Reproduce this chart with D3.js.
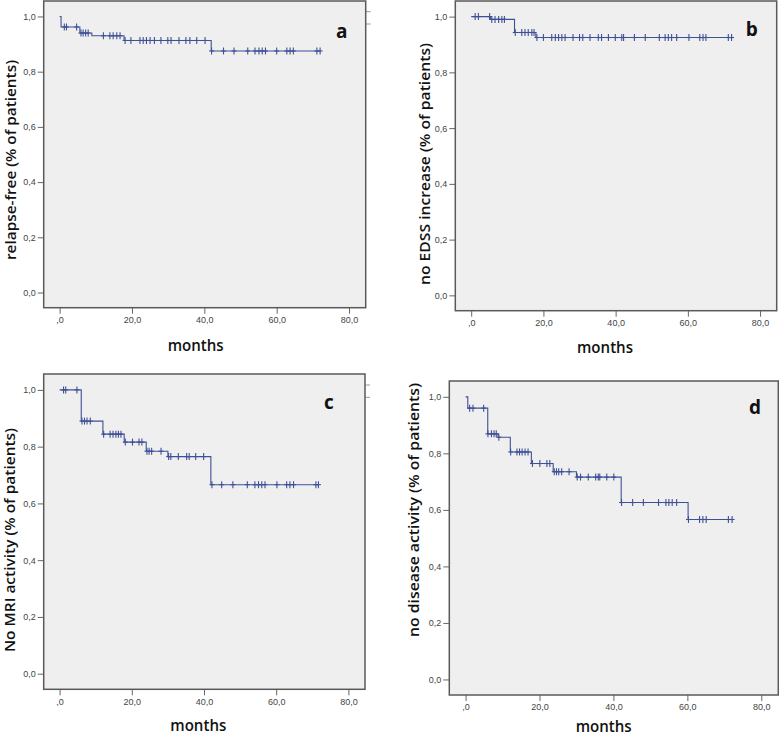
<!DOCTYPE html>
<html>
<head>
<meta charset="utf-8">
<script src="https://cdn.jsdelivr.net/npm/d3@7"></script>
<style>
  html, body { margin: 0; padding: 0; background: #fff; }
  svg { display: block; }
  .tick text { font-family: "Liberation Sans", Arial, sans-serif; font-size: 9px; fill: #444; }
  .tick line { stroke: #666; }
  .axis-label { font-family: "Open Sans", sans-serif; font-weight: 600; fill: #111; }
  .panel-letter { font-family: "Open Sans", sans-serif; font-weight: 700; font-size: 19px; fill: #111; }
</style>
</head>
<body>
<script>
// Four Kaplan-Meier panels (SPSS style), step curves with censor "+" marks.

const xTicks = [0, 20, 40, 60, 80];
const yTicks = [0, 0.2, 0.4, 0.6, 0.8, 1.0];

// a: relapse-free
const aTimes = [0.4, 5.6, 8.9, 17.8, 41.9];
const aSurv = [0.962, 0.940, 0.930, 0.913, 0.875];
const aCens = [1.3, 1.9, 4.7, 5.9, 6.5, 7.2, 7.9, 12.1, 13.9, 14.8, 15.8, 16.7,
  18.1, 19.7, 22.2, 23.1, 24.0, 25.0, 26.2, 28.0, 29.9, 30.8, 33.0, 34.9, 36.0, 37.9, 40.2,
  42.0, 45.3, 48.2, 52.0, 54.0, 55.1, 56.0, 56.9, 60.0, 62.8, 63.7, 64.6, 71.1, 72.0];

// b: no EDSS increase
const bTimes = [5.3, 12.0, 17.9];
const bSurv = [0.990, 0.943, 0.925];
const bCens = [1.1, 2.0, 5.1, 5.7, 6.6, 7.6, 8.5, 9.2, 12.2, 14.0, 14.9, 15.8, 16.8, 17.4,
  18.2, 20.0, 22.3, 23.3, 24.2, 25.1, 26.0, 28.2, 30.0, 30.9, 32.9, 35.2, 36.1, 38.0, 39.9,
  41.7, 42.2, 45.2, 48.2, 52.1, 53.7, 54.6, 55.5, 56.9, 60.3, 63.3, 64.2, 65.0, 71.2, 72.1];

// c: no MRI activity
const cTimes = [6.0, 12.0, 17.9, 24.0, 30.0, 41.9];
const cSurv = [0.890, 0.844, 0.816, 0.784, 0.765, 0.666];
const cCens = [1.1, 1.7, 4.8, 6.2, 6.9, 7.6, 8.5, 12.2, 14.0, 14.8, 15.6, 16.3, 17.0,
  18.2, 20.2, 22.0, 22.8, 24.2, 24.8, 25.5, 28.1, 30.2, 30.8, 32.9, 35.2, 35.9, 37.7, 39.9,
  42.2, 44.9, 48.0, 52.0, 54.1, 55.1, 56.0, 56.9, 60.2, 62.9, 63.8, 64.8, 71.0, 71.7];

// d: no disease activity
const dTimes = [0.6, 6.0, 8.8, 12.1, 17.8, 23.7, 30.0, 42.1, 60.2];
const dSurv = [0.960, 0.869, 0.857, 0.805, 0.764, 0.735, 0.716, 0.626, 0.566];
const dCens = [1.1, 2.0, 4.9, 6.05, 7.0, 7.7, 8.3, 9.0, 12.2, 13.9, 14.6, 15.3, 16.1, 16.9,
  18.1, 20.1, 22.0, 22.8, 24.0, 24.6, 25.2, 26.0, 28.0, 30.2, 31.1, 33.2, 35.2, 35.9, 36.3,
  38.2, 40.1, 42.2, 45.2, 48.1, 52.2, 54.2, 55.0, 55.9, 57.1, 60.3, 63.3, 64.2, 65.1, 71.1, 72.1];

const xDomain = [-4.4, 84.6];
const yDomain = [-0.055, 1.056];

const panels = [
  { letter: 'a', ylabel: 'relapse-free (% of patients)', times: aTimes, surv: aSurv, cens: aCens,
    frame: { x0: 43.7, x1: 365.7, y0: 1, y1: 307.7 },
    yl: { x: 9.5, y: 160, len: 200 }, months: { x: 195.7, y: 351 }, lt: { x: 341.7, y: 38.3 }, legendStub: [11.7, 24] },
  { letter: 'b', ylabel: 'no  EDSS increase (% of patients)', times: bTimes, surv: bSurv, cens: bCens,
    frame: { x0: 455.3, x1: 776.7, y0: 1, y1: 310.7 },
    yl: { x: 424, y: 164, len: 242 }, months: { x: 605, y: 352.5 }, lt: { x: 751.7, y: 36 } },
  { letter: 'c', ylabel: 'No MRI activity (% of patients)', times: cTimes, surv: cSurv, cens: cCens,
    frame: { x0: 43.7, x1: 365, y0: 374, y1: 689.3 },
    yl: { x: 8.5, y: 540, len: 224 }, months: { x: 198.3, y: 730.5 }, lt: { x: 329, y: 409 }, legendStub: [385, 397.3] },
  { letter: 'd', ylabel: 'no disease activity (% of patients)', times: dTimes, surv: dSurv, cens: dCens,
    frame: { x0: 449.3, x1: 778.3, y0: 381, y1: 695 },
    yl: { x: 412.5, y: 510, len: 254 }, months: { x: 603.7, y: 732 }, lt: { x: 755, y: 414 } },
];

const fmtY = (v) => d3.format('.1f')(v).replace('.', ',');
const fmtX = (v) => (v === 0 ? ',0' : d3.format('.1f')(v).replace('.', ','));

const svg = d3.select('body').append('svg').attr('width', 779).attr('height', 736);

panels.forEach((p) => {
  const f = p.frame;
  const x = d3.scaleLinear().domain(xDomain).range([f.x0, f.x1]);
  const y = d3.scaleLinear().domain(yDomain).range([f.y1, f.y0]);
  const g = svg.append('g');

  g.append('rect')
    .attr('x', f.x0).attr('y', f.y0)
    .attr('width', f.x1 - f.x0).attr('height', f.y1 - f.y0)
    .attr('fill', '#efefef');

  if (p.legendStub) {
    p.legendStub.forEach((yy) => {
      g.append('line').attr('x1', f.x1).attr('x2', f.x1 + 5).attr('y1', yy).attr('y2', yy)
        .attr('stroke', '#999').attr('stroke-width', 1);
    });
  }

  const yAxis = g.append('g').attr('transform', `translate(${f.x0},0)`)
    .call(d3.axisLeft(y).tickValues(yTicks).tickFormat(fmtY).tickSize(6).tickPadding(2));
  yAxis.select('.domain').remove();

  const xAxis = g.append('g').attr('transform', `translate(0,${f.y1})`)
    .call(d3.axisBottom(x).tickValues(xTicks).tickFormat(fmtX).tickSize(6).tickPadding(3));
  xAxis.select('.domain').remove();

  // step curve
  const last = d3.max(p.cens);
  const pts = [[0, 1]].concat(p.times.map((t, i) => [t, p.surv[i]]));
  pts.push([last, p.surv[p.surv.length - 1]]);
  g.append('path')
    .datum(pts)
    .attr('d', d3.line().x((d) => x(d[0])).y((d) => y(d[1])).curve(d3.curveStepAfter))
    .attr('fill', 'none').attr('stroke', '#3f5196').attr('stroke-width', 1.1);

  const survAt = (t) => {
    let s = 1;
    p.times.forEach((tt, i) => { if (t >= tt) s = p.surv[i]; });
    return s;
  };
  const marks = g.append('g').attr('stroke', '#3f5196').attr('stroke-width', 1.1);
  p.cens.forEach((t) => {
    const cx = x(t), cy = y(survAt(t));
    marks.append('line').attr('x1', cx).attr('x2', cx).attr('y1', cy - 3.5).attr('y2', cy + 3.5);
    marks.append('line').attr('x1', cx - 2.5).attr('x2', cx + 2.5).attr('y1', cy).attr('y2', cy);
  });

  g.append('rect')
    .attr('x', f.x0).attr('y', f.y0)
    .attr('width', f.x1 - f.x0).attr('height', f.y1 - f.y0)
    .attr('fill', 'none').attr('stroke', '#5a5a5a').attr('stroke-width', 1.5);

  g.append('text').attr('class', 'axis-label')
    .attr('transform', `translate(${p.yl.x},${p.yl.y}) rotate(-90)`)
    .attr('text-anchor', 'middle').attr('dominant-baseline', 'central')
    .attr('font-size', 15)
    .attr('textLength', p.yl.len).attr('lengthAdjust', 'spacingAndGlyphs')
    .text(p.ylabel);

  g.append('text').attr('class', 'axis-label')
    .attr('x', p.months.x).attr('y', p.months.y)
    .attr('text-anchor', 'middle').attr('font-size', 16)
    .attr('textLength', 56).attr('lengthAdjust', 'spacingAndGlyphs')
    .text('months');

  g.append('text').attr('class', 'panel-letter')
    .attr('x', p.lt.x).attr('y', p.lt.y).attr('text-anchor', 'middle')
    .text(p.letter);
});
</script>
</body>
</html>
